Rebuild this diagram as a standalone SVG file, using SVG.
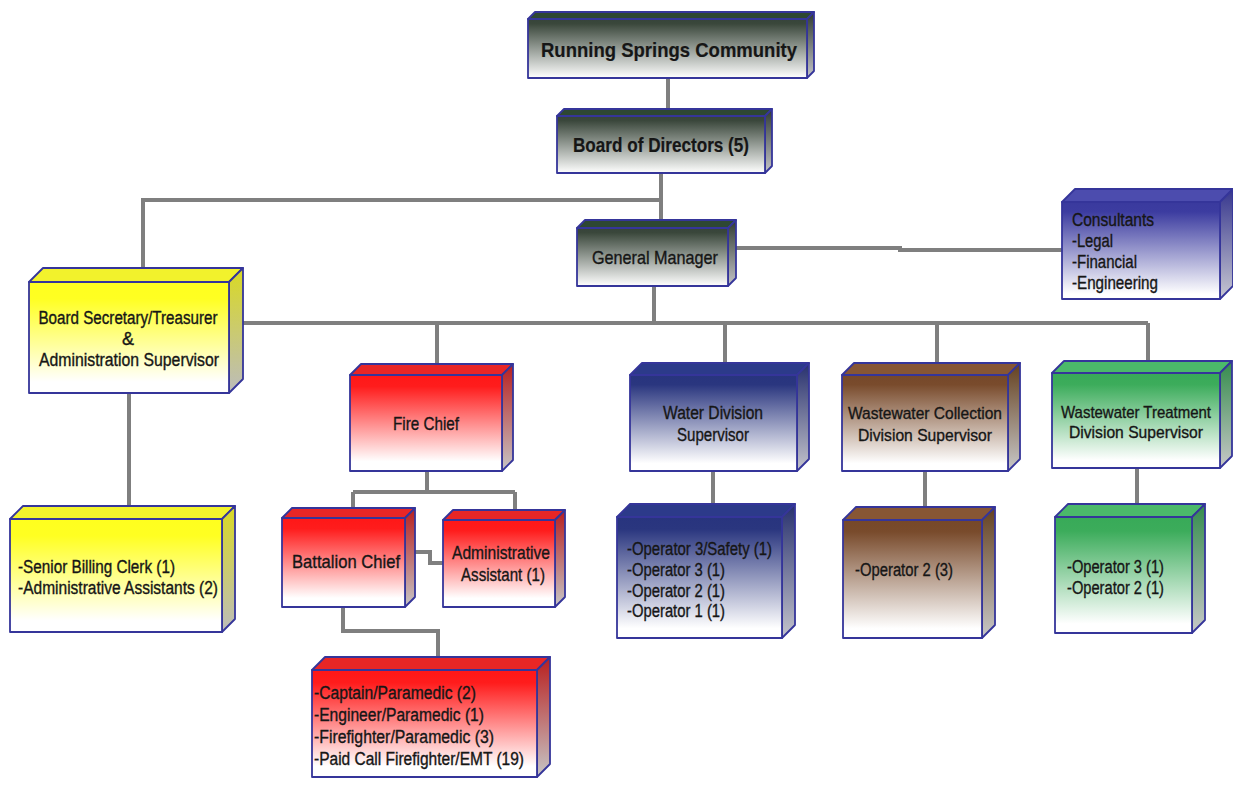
<svg xmlns="http://www.w3.org/2000/svg" width="1233" height="785" viewBox="0 0 1233 785">
<defs>
<style>
.t{font-family:"Liberation Sans Narrow","Liberation Sans",Arial,sans-serif;font-size:19px;fill:#161616;stroke:#161616;stroke-width:0.35}
.s{font-size:18px}
.n{font-size:17px}
.b{font-weight:bold;stroke-width:0.2}
.m{text-anchor:middle}
.edge{fill:none;stroke:#7f7f7f;stroke-width:4}
.bd{stroke:#35359a;stroke-width:1.8;stroke-linejoin:round}
</style>
<linearGradient id="fDark" x1="0" y1="0" x2="0" y2="1"><stop offset="0" stop-color="#36443a"/><stop offset="0.08" stop-color="#3a473b"/><stop offset="1" stop-color="#ffffff"/></linearGradient>
<linearGradient id="rDark" x1="0" y1="0" x2="0" y2="1"><stop offset="0" stop-color="#2f3a31"/><stop offset="1" stop-color="#c4c4c8"/></linearGradient>
<linearGradient id="fYel" x1="0" y1="0" x2="0" y2="1"><stop offset="0" stop-color="#ffff1e"/><stop offset="0.15" stop-color="#ffff22"/><stop offset="0.9" stop-color="#ffffff"/></linearGradient>
<linearGradient id="rYel" x1="0" y1="0" x2="0" y2="1"><stop offset="0" stop-color="#d9d922"/><stop offset="1" stop-color="#bcbcbc"/></linearGradient>
<linearGradient id="fRed" x1="0" y1="0" x2="0" y2="1"><stop offset="0" stop-color="#ff1717"/><stop offset="0.12" stop-color="#ff1c1c"/><stop offset="0.9" stop-color="#ffffff"/></linearGradient>
<linearGradient id="rRed" x1="0" y1="0" x2="0" y2="1"><stop offset="0" stop-color="#b81e1e"/><stop offset="1" stop-color="#c6c6c6"/></linearGradient>
<linearGradient id="fBlu" x1="0" y1="0" x2="0" y2="1"><stop offset="0" stop-color="#28347e"/><stop offset="0.1" stop-color="#2a367f"/><stop offset="0.92" stop-color="#ffffff"/></linearGradient>
<linearGradient id="rBlu" x1="0" y1="0" x2="0" y2="1"><stop offset="0" stop-color="#27306e"/><stop offset="1" stop-color="#c4c4cc"/></linearGradient>
<linearGradient id="fBrn" x1="0" y1="0" x2="0" y2="1"><stop offset="0" stop-color="#76482a"/><stop offset="0.1" stop-color="#794b2c"/><stop offset="0.92" stop-color="#ffffff"/></linearGradient>
<linearGradient id="rBrn" x1="0" y1="0" x2="0" y2="1"><stop offset="0" stop-color="#64401f"/><stop offset="1" stop-color="#c8c8c8"/></linearGradient>
<linearGradient id="fGrn" x1="0" y1="0" x2="0" y2="1"><stop offset="0" stop-color="#38aa58"/><stop offset="0.12" stop-color="#3cac5b"/><stop offset="0.92" stop-color="#ffffff"/></linearGradient>
<linearGradient id="rGrn" x1="0" y1="0" x2="0" y2="1"><stop offset="0" stop-color="#338c4c"/><stop offset="1" stop-color="#c8c8c8"/></linearGradient>
<linearGradient id="fPur" x1="0" y1="0" x2="0" y2="1"><stop offset="0" stop-color="#3a3a9e"/><stop offset="0.1" stop-color="#3c3ca0"/><stop offset="0.95" stop-color="#ffffff"/></linearGradient>
<linearGradient id="rPur" x1="0" y1="0" x2="0" y2="1"><stop offset="0" stop-color="#36368e"/><stop offset="1" stop-color="#c8c8d2"/></linearGradient>
</defs>
<rect width="1233" height="785" fill="#ffffff"/>

<g id="connectors">
<path class="edge" d="M668,78 V113"/>
<path class="edge" d="M661,173 V222"/>
<path class="edge" d="M661,200 H143 V270"/>
<path class="edge" d="M736,248 H900 V250 H1062"/>
<path class="edge" d="M654,286 V323"/>
<path class="edge" d="M243,323 H1148"/>
<path class="edge" d="M437,323 V366"/>
<path class="edge" d="M725,323 V365"/>
<path class="edge" d="M937,323 V365"/>
<path class="edge" d="M1148,323 V363"/>
<path class="edge" d="M129,393 V508"/>
<path class="edge" d="M427,471 V492 M353,492 H515 M353,492 V510 M515,492 V512"/>
<path class="edge" d="M415,552 H430 V563 H443"/>
<path class="edge" d="M343,607 V631 H438 V659"/>
<path class="edge" d="M713,471 V506"/>
<path class="edge" d="M925,471 V509"/>
<path class="edge" d="M1137,468 V506"/>
</g>

<g id="community">
<polygon class="bd" points="528,19 535,12 814,12 807,19" fill="#2e4733"/>
<polygon class="bd" points="807,19 814,12 814,71 807,78" fill="url(#rDark)"/>
<rect class="bd" x="528" y="19" width="279" height="59" fill="url(#fDark)"/>
<text class="t b m" x="669" y="57" textLength="256" lengthAdjust="spacingAndGlyphs" style="font-size:21px">Running Springs Community</text>
</g>

<g id="board">
<polygon class="bd" points="557,116 564,109 772,109 765,116" fill="#2e4733"/>
<polygon class="bd" points="765,116 772,109 772,166 765,173" fill="url(#rDark)"/>
<rect class="bd" x="557" y="116" width="208" height="57" fill="url(#fDark)"/>
<text class="t b m" x="661" y="152" textLength="176" lengthAdjust="spacingAndGlyphs" style="font-size:20px">Board of Directors (5)</text>
</g>

<g id="gm">
<polygon class="bd" points="577,228 585,220 736,220 728,228" fill="#2e4733"/>
<polygon class="bd" points="728,228 736,220 736,278 728,286" fill="url(#rDark)"/>
<rect class="bd" x="577" y="228" width="151" height="58" fill="url(#fDark)"/>
<text class="t m" x="655" y="264" textLength="126" lengthAdjust="spacingAndGlyphs">General Manager</text>
</g>

<g id="consultants">
<polygon class="bd" points="1062,202 1075,189 1233,189 1220,202" fill="#4c4cae"/>
<polygon class="bd" points="1220,202 1233,189 1233,286 1220,299" fill="url(#rPur)"/>
<rect class="bd" x="1062" y="202" width="158" height="97" fill="url(#fPur)"/>
<text class="t s" x="1072" y="226" textLength="82" lengthAdjust="spacingAndGlyphs">Consultants</text>
<text class="t s" x="1072" y="247" textLength="41" lengthAdjust="spacingAndGlyphs">-Legal</text>
<text class="t s" x="1072" y="268" textLength="65" lengthAdjust="spacingAndGlyphs">-Financial</text>
<text class="t s" x="1072" y="289" textLength="86" lengthAdjust="spacingAndGlyphs">-Engineering</text>
</g>

<g id="boardsec">
<polygon class="bd" points="29,282 43,268 243,268 229,282" fill="#f2f22c"/>
<polygon class="bd" points="229,282 243,268 243,379 229,393" fill="url(#rYel)"/>
<rect class="bd" x="29" y="282" width="200" height="111" fill="url(#fYel)"/>
<text class="t s m" x="128" y="324" textLength="179" lengthAdjust="spacingAndGlyphs">Board Secretary/Treasurer</text>
<text class="t s m" x="128" y="345">&amp;</text>
<text class="t s m" x="129" y="366" textLength="180" lengthAdjust="spacingAndGlyphs">Administration Supervisor</text>
</g>

<g id="billing">
<polygon class="bd" points="10,519 23,506 235,506 222,519" fill="#f2f22c"/>
<polygon class="bd" points="222,519 235,506 235,619 222,632" fill="url(#rYel)"/>
<rect class="bd" x="10" y="519" width="212" height="113" fill="url(#fYel)"/>
<text class="t s" x="18" y="573" textLength="157" lengthAdjust="spacingAndGlyphs">-Senior Billing Clerk (1)</text>
<text class="t s" x="18" y="594" textLength="200" lengthAdjust="spacingAndGlyphs">-Administrative Assistants (2)</text>
</g>

<g id="firechief">
<polygon class="bd" points="350,375 361,364 513,364 502,375" fill="#e82626"/>
<polygon class="bd" points="502,375 513,364 513,460 502,471" fill="url(#rRed)"/>
<rect class="bd" x="350" y="375" width="152" height="96" fill="url(#fRed)"/>
<text class="t m" x="426" y="430" textLength="66" lengthAdjust="spacingAndGlyphs">Fire Chief</text>
</g>

<g id="battalion">
<polygon class="bd" points="282,518 292,508 415,508 405,518" fill="#e82626"/>
<polygon class="bd" points="405,518 415,508 415,597 405,607" fill="url(#rRed)"/>
<rect class="bd" x="282" y="518" width="123" height="89" fill="url(#fRed)"/>
<text class="t m" x="346" y="568" textLength="108" lengthAdjust="spacingAndGlyphs">Battalion Chief</text>
</g>

<g id="adminasst">
<polygon class="bd" points="443,520 453,510 565,510 555,520" fill="#e82626"/>
<polygon class="bd" points="555,520 565,510 565,597 555,607" fill="url(#rRed)"/>
<rect class="bd" x="443" y="520" width="112" height="87" fill="url(#fRed)"/>
<text class="t m" x="501" y="559" textLength="98" lengthAdjust="spacingAndGlyphs">Administrative</text>
<text class="t m" x="503" y="581" textLength="84" lengthAdjust="spacingAndGlyphs">Assistant (1)</text>
</g>

<g id="firecrew">
<polygon class="bd" points="312,670 325,657 550,657 537,670" fill="#e82626"/>
<polygon class="bd" points="537,670 550,657 550,764 537,777" fill="url(#rRed)"/>
<rect class="bd" x="312" y="670" width="225" height="107" fill="url(#fRed)"/>
<text class="t s" x="314" y="699" textLength="162" lengthAdjust="spacingAndGlyphs">-Captain/Paramedic (2)</text>
<text class="t s" x="314" y="721" textLength="170" lengthAdjust="spacingAndGlyphs">-Engineer/Paramedic (1)</text>
<text class="t s" x="314" y="743" textLength="180" lengthAdjust="spacingAndGlyphs">-Firefighter/Paramedic (3)</text>
<text class="t s" x="314" y="765" textLength="210" lengthAdjust="spacingAndGlyphs">-Paid Call Firefighter/EMT (19)</text>
</g>

<g id="water">
<polygon class="bd" points="630,375 642,363 809,363 797,375" fill="#2c3a8a"/>
<polygon class="bd" points="797,375 809,363 809,459 797,471" fill="url(#rBlu)"/>
<rect class="bd" x="630" y="375" width="167" height="96" fill="url(#fBlu)"/>
<text class="t s m" x="713" y="419" textLength="100" lengthAdjust="spacingAndGlyphs">Water Division</text>
<text class="t s m" x="713" y="441" textLength="72" lengthAdjust="spacingAndGlyphs">Supervisor</text>
</g>

<g id="waterops">
<polygon class="bd" points="617,517 630,504 795,504 782,517" fill="#2c3a8a"/>
<polygon class="bd" points="782,517 795,504 795,625 782,638" fill="url(#rBlu)"/>
<rect class="bd" x="617" y="517" width="165" height="121" fill="url(#fBlu)"/>
<text class="t s" x="627" y="555" textLength="145" lengthAdjust="spacingAndGlyphs">-Operator 3/Safety (1)</text>
<text class="t s" x="627" y="576" textLength="98" lengthAdjust="spacingAndGlyphs">-Operator 3 (1)</text>
<text class="t s" x="627" y="597" textLength="98" lengthAdjust="spacingAndGlyphs">-Operator 2 (1)</text>
<text class="t s" x="627" y="617" textLength="98" lengthAdjust="spacingAndGlyphs">-Operator 1 (1)</text>
</g>

<g id="collection">
<polygon class="bd" points="842,375 854,363 1020,363 1008,375" fill="#875634"/>
<polygon class="bd" points="1008,375 1020,363 1020,459 1008,471" fill="url(#rBrn)"/>
<rect class="bd" x="842" y="375" width="166" height="96" fill="url(#fBrn)"/>
<text class="t n m" x="925" y="419" textLength="154" lengthAdjust="spacingAndGlyphs">Wastewater Collection</text>
<text class="t n m" x="925" y="441" textLength="134" lengthAdjust="spacingAndGlyphs">Division Supervisor</text>
</g>

<g id="collops">
<polygon class="bd" points="843,520 856,507 995,507 982,520" fill="#875634"/>
<polygon class="bd" points="982,520 995,507 995,625 982,638" fill="url(#rBrn)"/>
<rect class="bd" x="843" y="520" width="139" height="118" fill="url(#fBrn)"/>
<text class="t s" x="855" y="576" textLength="98" lengthAdjust="spacingAndGlyphs">-Operator 2 (3)</text>
</g>

<g id="treatment">
<polygon class="bd" points="1052,373 1064,361 1232,361 1220,373" fill="#4bb96a"/>
<polygon class="bd" points="1220,373 1232,361 1232,456 1220,468" fill="url(#rGrn)"/>
<rect class="bd" x="1052" y="373" width="168" height="95" fill="url(#fGrn)"/>
<text class="t n m" x="1136" y="418" textLength="150" lengthAdjust="spacingAndGlyphs">Wastewater Treatment</text>
<text class="t n m" x="1136" y="438" textLength="134" lengthAdjust="spacingAndGlyphs">Division Supervisor</text>
</g>

<g id="treatops">
<polygon class="bd" points="1055,517 1068,504 1205,504 1192,517" fill="#4bb96a"/>
<polygon class="bd" points="1192,517 1205,504 1205,620 1192,633" fill="url(#rGrn)"/>
<rect class="bd" x="1055" y="517" width="137" height="116" fill="url(#fGrn)"/>
<text class="t s" x="1067" y="573" textLength="97" lengthAdjust="spacingAndGlyphs">-Operator 3 (1)</text>
<text class="t s" x="1067" y="594" textLength="97" lengthAdjust="spacingAndGlyphs">-Operator 2 (1)</text>
</g>
</svg>
